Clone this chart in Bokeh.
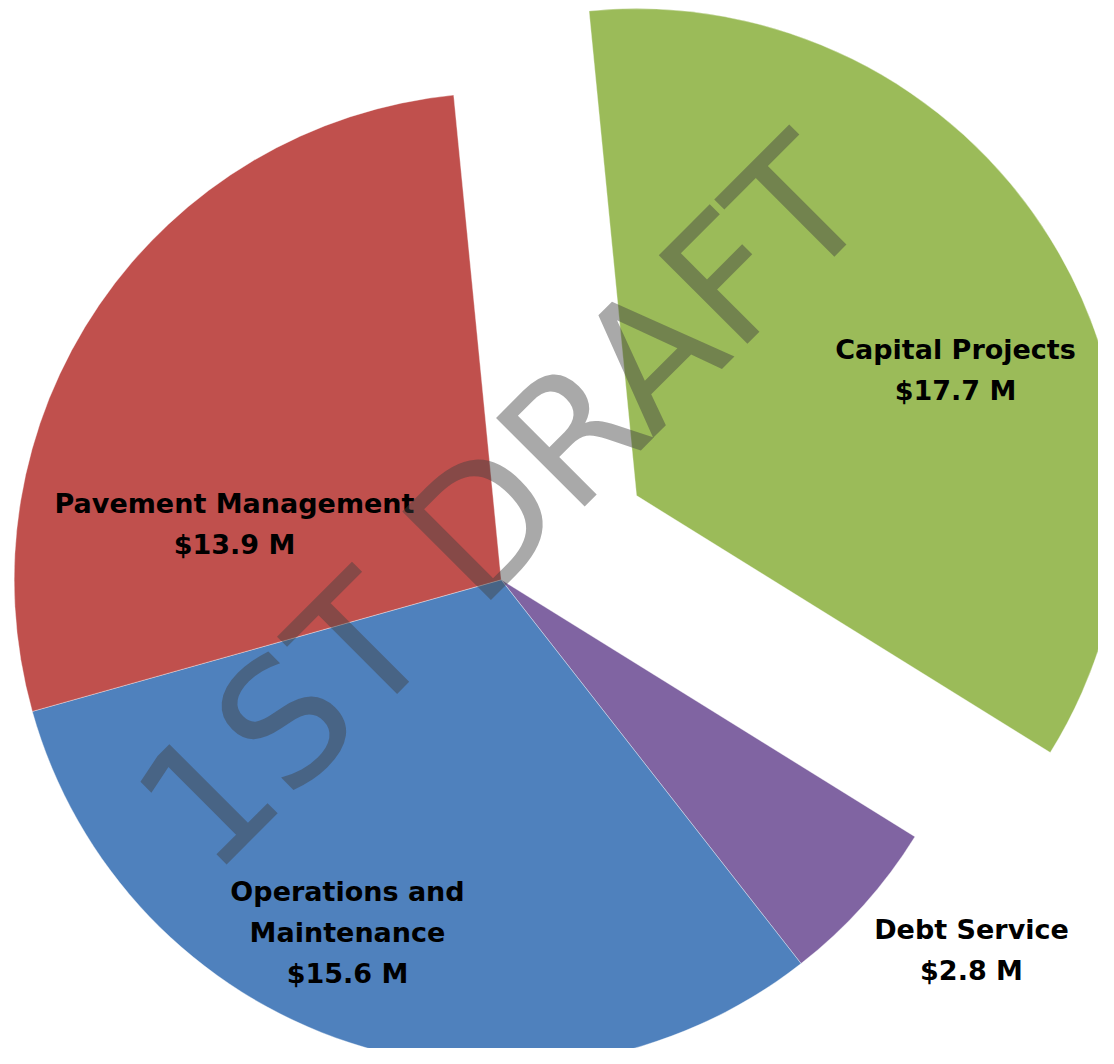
import math
from bokeh.plotting import figure
from bokeh.models import Range1d, ColumnDataSource
from bokeh.core.properties import value
from bokeh.embed import file_html
from bokeh.resources import INLINE

# ---- data ----
categories = ["Capital Projects", "Debt Service", "Operations and Maintenance", "Pavement Management"]
amounts = [17.7, 2.8, 15.6, 13.9]  # $ millions
label_lines = [["Capital Projects"], ["Debt Service"], ["Operations and", "Maintenance"], ["Pavement Management"]]
watermark = "1ST DRAFT"

# ---- style / layout ----
colors = ["#9BBB59", "#8064A2", "#4F81BD", "#C0504D"]
explode_px = [159.4, 0, 0, 0]
first_angle = -5.6          # degrees, clockwise from 12 o'clock
W, H = 1098, 1048
OX, OY = 0, 0
CX, CY = 500.7, 579.3       # pie centre in picture pixels
R = 487
label_anchor = [(955, 349), (971, 929), (347, 891), (234, 503)]  # first-line baseline centre
LINE_GAP = 41
LABEL_FONT = "DejaVu Sans"
LABEL_SIZE = "27px"
WM_POS = (502, 504)
WM_SIZE = "172px"

p = figure(width=W, height=H, output_backend="svg", toolbar_location=None,
           x_range=Range1d(OX, OX + W), y_range=Range1d(-(OY + H), -OY),
           x_axis_type=None, y_axis_type=None, min_border=0)
p.grid.visible = False
p.outline_line_color = None
p.background_fill_color = "white"
p.border_fill_color = "white"

total = sum(amounts)
xs, ys, starts, ends = [], [], [], []
theta = first_angle
for amt, ex in zip(amounts, explode_px):
    sweep = 360.0 * amt / total
    t1, t2 = theta, theta + sweep
    mid = math.radians((t1 + t2) / 2)
    xs.append(CX + ex * math.sin(mid))
    ys.append(-(CY - ex * math.cos(mid)))
    starts.append(math.radians(90 - t2))
    ends.append(math.radians(90 - t1))
    theta = t2

src = ColumnDataSource(dict(x=xs, y=ys, start=starts, end=ends, color=colors, name=categories))
p.wedge(x="x", y="y", radius=R, start_angle="start", end_angle="end", direction="anticlock",
        fill_color="color", line_color="white", line_width=0.6, line_alpha=0.6, source=src)

# labels
tx, ty, tt = [], [], []
for lines, amt, (ax, ay) in zip(label_lines, amounts, label_anchor):
    all_lines = lines + ["$%.1f M" % amt]
    for i, ln in enumerate(all_lines):
        tx.append(ax)
        ty.append(-(ay + i * LINE_GAP))
        tt.append(ln)
p.text(x=tx, y=ty, text=tt, text_font=value(LABEL_FONT), text_font_size=value(LABEL_SIZE),
       text_font_style="bold", text_color="black", text_align="center", text_baseline="alphabetic")

# watermark
p.text(x=[WM_POS[0]], y=[-WM_POS[1]], text=[watermark], angle=math.radians(45),
       text_font=value("DejaVu Sans"), text_font_size=value(WM_SIZE),
       text_color="#404040", text_alpha=0.45, text_align="center", text_baseline="alphabetic")

open("out.html", "w").write(file_html(p, INLINE))
